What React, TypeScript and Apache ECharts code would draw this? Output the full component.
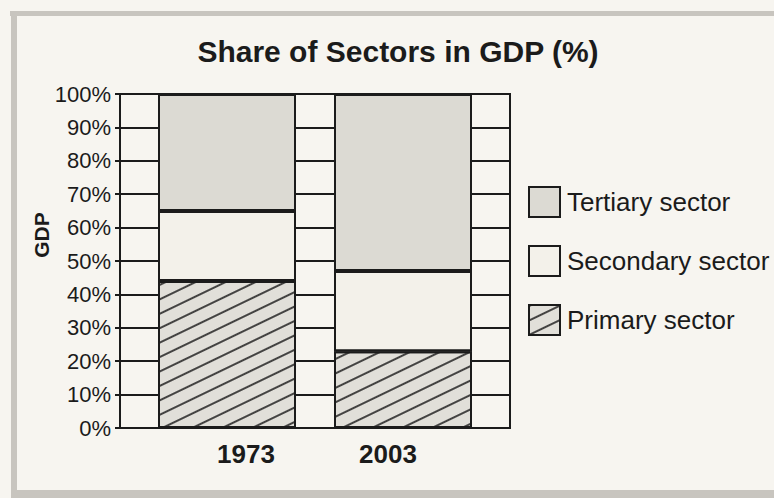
import React, { useEffect, useRef } from "react";
import * as echarts from "echarts";

const categories = ["1973", "2003"];
const primarySector = [44, 23];
const secondarySector = [21, 24];
const tertiarySector = [35, 53];
const legendOrder = ["Tertiary sector", "Secondary sector", "Primary sector"];
const titleText = "Share of Sectors in GDP (%)";
const yAxisName = "GDP";

const FONT = "'Liberation Sans', Arial, Helvetica, sans-serif";
const INK = "#1b1b1b";

export default function App() {
  const ref = useRef<HTMLDivElement>(null);
  useEffect(() => {
    if (!ref.current) return;
    const chart = echarts.init(ref.current, null, { renderer: "svg" });
    const barBorder = { borderColor: INK, borderWidth: 2 };
    const frame = "#c8c5bf";
    chart.setOption({
      animation: false,
      backgroundColor: "#f7f5f0",
      textStyle: { fontFamily: FONT },
      graphic: [
        { type: "rect", x: 10, y: 11, shape: { width: 764, height: 5 }, style: { fill: frame }, silent: true },
        { type: "rect", x: 11, y: 11, shape: { width: 6, height: 487 }, style: { fill: frame }, silent: true },
        { type: "rect", x: 11, y: 490, shape: { width: 763, height: 8 }, style: { fill: frame }, silent: true },
      ],
      title: {
        text: titleText,
        left: 393,
        textAlign: "center",
        top: 31,
        textStyle: { fontFamily: FONT, fontSize: 30, fontWeight: "bold", color: INK },
      },
      legend: {
        data: legendOrder,
        orient: "vertical",
        icon: "rect",
        left: 523,
        top: 181,
        itemWidth: 31,
        itemHeight: 30,
        itemGap: 27,
        textStyle: { fontFamily: FONT, fontSize: 26, color: INK, padding: [0, 0, 0, 2] },
      },
      grid: [
        { left: 120, right: 264, top: 94, bottom: 70, show: true, borderColor: INK, borderWidth: 2, backgroundColor: "transparent" },
        { left: 139, right: 283, top: 94, bottom: 70 },
      ],
      xAxis: [
        {
          type: "category",
          gridIndex: 0,
          data: categories,
          axisLine: { lineStyle: { color: INK, width: 2 } },
          axisTick: { show: false },
          axisLabel: { show: false },
        },
        {
          type: "category",
          gridIndex: 1,
          data: categories,
          axisLine: { show: false },
          axisTick: { show: false },
          axisLabel: {
            margin: 13,
            formatter: (v: string, i: number) => (i === 0 ? `{a|${v}}` : `{b|${v}}`),
            rich: {
              a: { fontFamily: FONT, fontSize: 26, fontWeight: "bold", color: INK, padding: [0, 0, 0, 38] },
              b: { fontFamily: FONT, fontSize: 26, fontWeight: "bold", color: INK, padding: [0, 30, 0, 0] },
            },
          },
        },
      ],
      yAxis: [
        {
          type: "value",
          gridIndex: 0,
          min: 0,
          max: 100,
          interval: 10,
          name: yAxisName,
          nameLocation: "middle",
          nameRotate: 90,
          nameGap: 68,
          nameMoveOverlap: false,
          nameTextStyle: { fontFamily: FONT, fontSize: 21, fontWeight: "bold", color: INK, padding: [0, 0, 0, 52] },
          axisLine: { show: true, lineStyle: { color: INK, width: 2 } },
          axisTick: { show: true, length: 5, lineStyle: { color: INK, width: 2 } },
          axisLabel: { formatter: "{value}%", fontFamily: FONT, fontSize: 22, color: INK, margin: 9 },
          splitLine: { show: true, lineStyle: { color: INK, width: 2 } },
        },
        {
          type: "value",
          gridIndex: 1,
          min: 0,
          max: 100,
          interval: 10,
          show: false,
        },
      ],
      series: [
        {
          name: "Primary sector",
          type: "bar",
          stack: "gdp",
          xAxisIndex: 1,
          yAxisIndex: 1,
          barWidth: 138,
          data: primarySector,
          itemStyle: {
            color: "#e1dfd9",
            ...barBorder,
            decal: {
              symbol: "rect",
              symbolSize: 1,
              color: "rgba(40,40,40,0.85)",
              dashArrayX: [1, 0],
              dashArrayY: [2, 11],
              rotation: -Math.PI / 7,
            },
          },
        },
        {
          name: "Secondary sector",
          type: "bar",
          stack: "gdp",
          xAxisIndex: 1,
          yAxisIndex: 1,
          barWidth: 138,
          data: secondarySector,
          itemStyle: { color: "#f3f1ea", ...barBorder },
        },
        {
          name: "Tertiary sector",
          type: "bar",
          stack: "gdp",
          xAxisIndex: 1,
          yAxisIndex: 1,
          barWidth: 138,
          data: tertiarySector,
          itemStyle: { color: "#dcdad3", ...barBorder },
        },
      ],
    });
    return () => chart.dispose();
  }, []);
  return (
    <div
      ref={ref}
      style={{ position: "fixed", left: 0, top: 0, width: 774, height: 498 }}
    />
  );
}
